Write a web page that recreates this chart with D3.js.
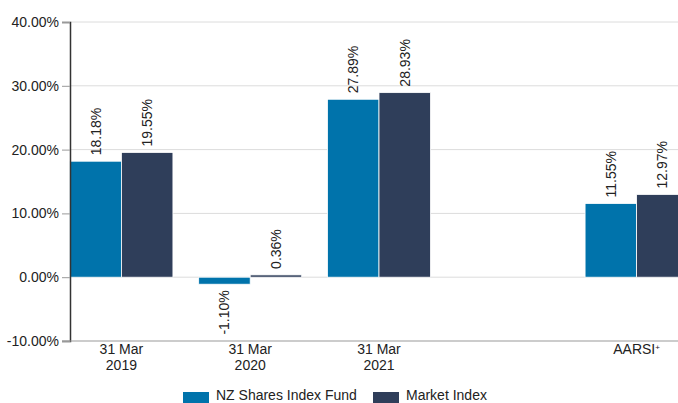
<!DOCTYPE html>
<html>
<head>
<meta charset="utf-8">
<script src="https://cdn.jsdelivr.net/npm/d3@7"></script>
<style>
  body { margin: 0; background: #fff; }
  svg text { font-family: "Liberation Sans", Arial, sans-serif; fill: #222; }
</style>
</head>
<body>
<div id="chart"></div>
<script>
// data
const categories = ["31 Mar|2019", "31 Mar|2020", "31 Mar|2021", "gap", "AARSI"];
const fundValues = [18.18, -1.10, 27.89, null, 11.55];
const marketValues = [19.55, 0.36, 28.93, null, 12.97];
const seriesNames = ["NZ Shares Index Fund", "Market Index"];
const seriesColors = ["#0073ab", "#2f3e5a"];
const yTicks = [-10, 0, 10, 20, 30, 40];

const width = 678;
const height = 403;

const svg = d3.select('#chart')
    .append('svg')
        .attr('width', width)
        .attr('height', height);

const y = d3.scaleLinear().domain([-10, 40]).range([341, 22]);

const x = d3.scaleBand()
    .domain(categories)
    .range([57, 701])
    .paddingInner(0.2)
    .paddingOuter(0.1);

const xInner = d3.scaleBand()
    .domain([0, 1])
    .range([0, x.bandwidth()]);

// gridlines
svg.append('g')
    .selectAll('line')
    .data(yTicks.filter(d => d !== -10))
    .enter()
    .append('line')
        .attr('x1', 70).attr('x2', width)
        .attr('y1', d => y(d)).attr('y2', d => y(d))
        .attr('stroke', '#dcdcdc')
        .attr('stroke-width', 1);

// bars
const rows = categories.map((c, i) => ({cat: c, vals: [fundValues[i], marketValues[i]]}));

const groups = svg.append('g')
    .selectAll('g')
    .data(rows)
    .enter()
    .append('g')
        .attr('transform', d => `translate(${x(d.cat)},0)`);

groups.selectAll('rect')
    .data(d => d.vals.map((v, k) => ({v, k})).filter(e => e.v !== null))
    .enter()
    .append('rect')
        .attr('x', d => xInner(d.k))
        .attr('width', xInner.bandwidth())
        .attr('y', d => y(Math.max(0, d.v)))
        .attr('height', d => Math.abs(y(d.v) - y(0)))
        .attr('fill', d => seriesColors[d.k])
        .attr('stroke', '#fff')
        .attr('stroke-width', 0.8);

groups.selectAll('text')
    .data(d => d.vals.map((v, k) => ({v, k})).filter(e => e.v !== null))
    .enter()
    .append('text')
        .attr('transform', d => {
            const cx = xInner(d.k) + xInner.bandwidth() / 2;
            const cy = d.v >= 0 ? y(d.v) - 6 : y(d.v) + 6;
            return `translate(${cx},${cy}) rotate(-90)`;
        })
        .attr('text-anchor', d => d.v >= 0 ? 'start' : 'end')
        .attr('dy', '0.35em')
        .style('font-size', '14px')
        .text(d => d.v.toFixed(2) + '%');

// y axis
const yAxis = svg.append('g')
    .attr('transform', 'translate(70,0)')
    .call(d3.axisLeft(y).tickValues(yTicks).tickSize(8).tickPadding(3)
        .tickFormat(d => d.toFixed(2) + '%'));
yAxis.select('.domain').attr('stroke', '#333').attr('stroke-width', 1.5);
yAxis.selectAll('.tick line').attr('stroke', '#999');
yAxis.selectAll('.tick text').style('font-size', '14px').style('font-family', '"Liberation Sans", Arial, sans-serif').attr('fill', '#222');

// x axis line
svg.append('line')
    .attr('x1', 62).attr('x2', width)
    .attr('y1', y(-10)).attr('y2', y(-10))
    .attr('stroke', '#999')
    .attr('stroke-width', 1);

// x labels
const xLabels = svg.append('g')
    .selectAll('text')
    .data(categories.filter(c => c !== 'gap'))
    .enter()
    .append('text')
        .attr('text-anchor', 'middle')
        .style('font-size', '14px');

xLabels.each(function (c) {
    const t = d3.select(this);
    const cx = x(c) + x.bandwidth() / 2;
    if (c === 'AARSI') {
        t.attr('x', cx).attr('y', 354).text('AARSI');
        t.append('tspan').attr('dy', -4).style('font-size', '8px').text('+');
    } else {
        c.split('|').forEach((line, i) => {
            t.append('tspan').attr('x', cx).attr('y', 354 + i * 15.5).text(line);
        });
    }
});

// legend (pulled up a touch so the text stays inside the frame)
const legendX = [183, 373];
const legend = svg.append('g')
    .selectAll('g')
    .data(seriesNames)
    .enter()
    .append('g')
        .attr('transform', (d, i) => `translate(${legendX[i]},392)`);

legend.append('rect')
    .attr('width', 26).attr('height', 11)
    .attr('fill', (d, i) => seriesColors[i]);

legend.append('text')
    .attr('x', 33).attr('y', 8)
    .style('font-size', '14px')
    .text(d => d);
</script>
</body>
</html>
